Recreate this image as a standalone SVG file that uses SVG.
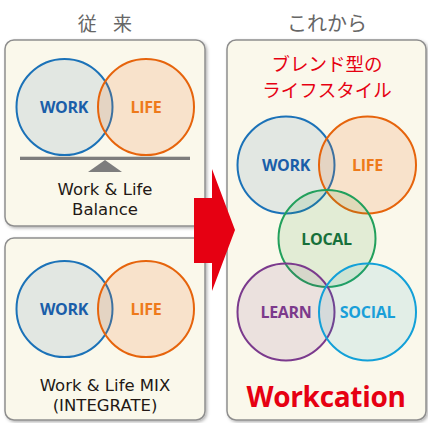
<svg xmlns="http://www.w3.org/2000/svg" width="428" height="423" viewBox="0 0 428 423">
<defs>
<filter id="sh" x="-5%" y="-5%" width="112%" height="112%">
<feDropShadow dx="1.5" dy="1.5" stdDeviation="1.5" flood-color="#000" flood-opacity="0.3"/>
</filter>
</defs>
<style>
.box{fill:#faf8eb;stroke:#8e8e8e;stroke-width:1.5;filter:url(#sh)}
.c{stroke-width:2}
.work{fill:rgba(40,98,156,0.11);stroke:#1b72b8}
.life{fill:rgba(243,115,40,0.16);stroke:#e6640c}
.local{fill:rgba(60,160,60,0.12);stroke:#22a05c}
.learn{fill:rgba(120,50,120,0.11);stroke:#7b3a8d}
.social{fill:rgba(20,160,200,0.10);stroke:#12a0d8}
.lbl{font-family:"Open Sans","Noto Sans",sans-serif;font-weight:700;font-size:16px;text-anchor:middle;letter-spacing:-0.3px}
.cap{font-family:"DejaVu Sans",sans-serif;font-size:16.5px;fill:#231815;text-anchor:middle}
.jp{font-family:"Noto Sans CJK JP",sans-serif;text-anchor:middle}
</style>

<g id="title-left"><text class="jp" x="105" y="31" font-size="19" fill="#666" word-spacing="12">従 来</text></g>
<g id="title-right"><text class="jp" x="327" y="31" font-size="20" fill="#666">これから</text></g>

<g id="box-balance">
<rect class="box" x="5" y="40" width="200" height="186" rx="9"/>
<circle class="c work" cx="64.5" cy="107" r="48"/>
<circle class="c life" cx="146" cy="107" r="48"/>
<text class="lbl" x="64" y="113" fill="#1a5ea9">WORK</text>
<text class="lbl" x="146" y="113" fill="#ee7a1b">LIFE</text>
<rect x="20" y="156.7" width="170" height="3.3" fill="#7d7d7d"/>
<polygon points="105,160 122,172 88,172" fill="#7d7d7d"/>
<text class="cap" x="105" y="194.5">Work &amp; Life</text>
<text class="cap" x="105" y="214.5">Balance</text>
</g>

<g id="box-mix">
<rect class="box" x="5" y="238" width="200" height="182" rx="9"/>
<circle class="c work" cx="64.5" cy="309" r="48"/>
<circle class="c life" cx="146" cy="309" r="48"/>
<text class="lbl" x="64" y="315" fill="#1a5ea9">WORK</text>
<text class="lbl" x="146" y="315" fill="#ee7a1b">LIFE</text>
<text class="cap" x="105" y="391">Work &amp; Life MIX</text>
<text class="cap" x="105" y="411">(INTEGRATE)</text>
</g>

<g id="box-workcation">
<rect class="box" x="227" y="40" width="199" height="380" rx="9"/>
<text class="jp" x="327" y="71" font-size="18.5" fill="#e60012">ブレンド型の</text>
<text class="jp" x="327" y="96.5" font-size="18.5" fill="#e60012">ライフスタイル</text>
<text x="326" y="406.5" font-family="'Open Sans','Noto Sans',sans-serif" font-weight="700" font-size="28" fill="#e60012" text-anchor="middle" letter-spacing="-0.3">Workcation</text>
</g>

<g id="node-work">
<circle class="c work" cx="286" cy="165" r="48.5"/>
<text class="lbl" x="286" y="171" fill="#1a5ea9">WORK</text>
</g>
<g id="node-life">
<circle class="c life" cx="367.5" cy="165" r="48.5"/>
<text class="lbl" x="367.5" y="171" fill="#ee7a1b">LIFE</text>
</g>
<g id="node-local">
<circle class="c local" cx="327" cy="238.5" r="48.5"/>
<text class="lbl" x="326.5" y="244.5" fill="#16703a">LOCAL</text>
</g>
<g id="node-learn">
<circle class="c learn" cx="286" cy="312" r="48.5"/>
<text class="lbl" x="286" y="318" fill="#7c3a8c">LEARN</text>
</g>
<g id="node-social">
<circle class="c social" cx="367.5" cy="312" r="48.5"/>
<text class="lbl" x="367.5" y="318" fill="#1a9fd9">SOCIAL</text>
</g>

<g id="connectors">
<polygon points="194,198 212,198 212,169 235,230 212,291 212,263 194,263" fill="#e60012"/>
</g>
</svg>
